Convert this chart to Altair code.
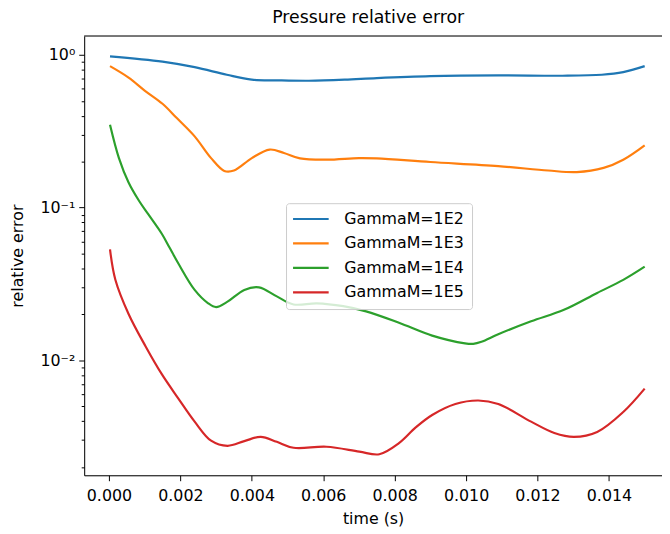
import altair as alt
import pandas as pd

# ---- data ----
series_names = ["GammaM=1E2", "GammaM=1E3", "GammaM=1E4", "GammaM=1E5"]
colors = ["#1f77b4", "#ff7f0e", "#2ca02c", "#d62728"]

t_1e2 = [0.00003, 0.0015, 0.0024, 0.0033, 0.0040, 0.0047, 0.0056, 0.0066, 0.0075,
         0.0090, 0.0109, 0.0127, 0.0138, 0.0144, 0.0150]
err_1e2 = [0.98, 0.905, 0.832, 0.742, 0.689, 0.682, 0.678, 0.689, 0.706,
           0.727, 0.735, 0.731, 0.742, 0.772, 0.845]

t_1e3 = [0.00003, 0.00055, 0.0010, 0.0015, 0.0019, 0.0024, 0.00286, 0.00323, 0.0035,
         0.0040, 0.0045, 0.0049, 0.00535, 0.0061, 0.0070, 0.0075, 0.0090, 0.0109,
         0.0123, 0.0131, 0.01385, 0.0144, 0.0150]
err_1e3 = [0.845, 0.711, 0.585, 0.479, 0.386, 0.293, 0.211, 0.174, 0.175,
           0.211, 0.240, 0.228, 0.210, 0.206, 0.211, 0.210, 0.199, 0.187,
           0.175, 0.171, 0.182, 0.206, 0.256]

t_1e4 = [0.00003, 0.00028, 0.00055, 0.00085, 0.0011, 0.00148, 0.0017, 0.00194, 0.0024,
         0.00277, 0.0030, 0.00332, 0.00379, 0.0042, 0.0047, 0.00517, 0.00582, 0.00656,
         0.0072, 0.00812, 0.00905, 0.00997, 0.0102, 0.01043, 0.0109, 0.01182, 0.01274,
         0.01367, 0.0144, 0.0150]
err_1e4 = [0.349, 0.211, 0.146, 0.110, 0.0906, 0.0674, 0.0545, 0.0432, 0.0289,
           0.0237, 0.0223, 0.0242, 0.0289, 0.0300, 0.0262, 0.0232, 0.0236, 0.0226,
           0.0209, 0.0176, 0.0145, 0.0129, 0.0128, 0.0132, 0.0148, 0.0180, 0.0214,
           0.0276, 0.0336, 0.0410]

t_1e5 = [0.00003, 0.00018, 0.00055, 0.00102, 0.00148, 0.00194, 0.0024, 0.00286, 0.00332,
         0.00379, 0.00425, 0.0047, 0.00517, 0.00609, 0.00701, 0.00757, 0.00812, 0.00859,
         0.00905, 0.0097, 0.01034, 0.0109, 0.01182, 0.01247, 0.01302, 0.01367, 0.0144, 0.0150]
err_1e5 = [0.0532, 0.0337, 0.0201, 0.0124, 0.0081, 0.00563, 0.00396, 0.00297, 0.00275,
           0.00295, 0.00315, 0.00292, 0.00267, 0.00271, 0.00252, 0.00242, 0.00286, 0.00363,
           0.00438, 0.00517, 0.00545, 0.00517, 0.00396, 0.00334, 0.00315, 0.00339, 0.00458, 0.00652]

x_ticks = [0.000, 0.002, 0.004, 0.006, 0.008, 0.010, 0.012, 0.014]
y_ticks = [0.002, 0.003, 0.004, 0.005, 0.006, 0.007, 0.008, 0.009,
           0.01, 0.02, 0.03, 0.04, 0.05, 0.06, 0.07, 0.08, 0.09,
           0.1, 0.2, 0.3, 0.4, 0.5, 0.6, 0.7, 0.8, 0.9, 1]

x_domain = [-0.000693, 0.015485]
y_domain = [0.001763, 1.332]

rows = []
for name, ts, es in zip(series_names, [t_1e2, t_1e3, t_1e4, t_1e5],
                        [err_1e2, err_1e3, err_1e4, err_1e5]):
    for i, (t, e) in enumerate(zip(ts, es)):
        rows.append({"series": name, "time": t, "err": e, "order": i})
df = pd.DataFrame(rows)

W, H = 584, 444
FONT = "DejaVu Sans"
FS = 16

lines = alt.Chart(df).mark_line(strokeWidth=2.2, interpolate="catmull-rom", clip=True).encode(
    x=alt.X("time:Q",
            scale=alt.Scale(domain=x_domain, nice=False, zero=False),
            axis=alt.Axis(values=x_ticks, format=".3f", title="time (s)", grid=False,
                          tickSize=5.5, labelPadding=7, labelFontSize=FS, titleFontSize=FS,
                          titleFontWeight="normal", labelColor="black", titleColor="black",
                          domainColor="black", tickColor="black", labelFont=FONT, titleFont=FONT,
                          titleBaseline="middle", titleY=44, labelFlush=False)),
    y=alt.Y("err:Q",
            scale=alt.Scale(type="log", domain=y_domain, nice=False),
            axis=alt.Axis(values=y_ticks,
                          labelExpr="datum.value == 1 ? '10⁰' : datum.value == 0.1 ? '10⁻¹' : datum.value == 0.01 ? '10⁻²' : ''",
                          tickSize={"condition": {"test": "datum.value == 1 || datum.value == 0.1 || datum.value == 0.01", "value": 5.5}, "value": 3},
                          title="relative error", grid=False, labelPadding=4,
                          labelFontSize=FS, titleFontSize=FS, titleFontWeight="normal",
                          labelColor="black", titleColor="black", domainColor="black",
                          tickColor="black", labelFont=FONT, titleFont=FONT,
                          titleAngle=270, titleX=-67, titleY=H / 2, titleBaseline="middle",
                          titleAlign="center", labelFlush=False)),
    color=alt.Color("series:N",
                    scale=alt.Scale(domain=series_names, range=colors),
                    legend=alt.Legend(title=None, orient="none", legendX=204, legendY=169,
                                      symbolType="M-3.6,0H3.6", symbolSize=100, symbolStrokeWidth=2.2,
                                      symbolOffset=9.1,
                                      labelFontSize=FS, labelFont=FONT, labelColor="black",
                                      labelOffset=25.7, padding=8, rowPadding=8.7,
                                      strokeColor="#cccccc", fillColor="rgba(255,255,255,0.8)",
                                      cornerRadius=3, labelLimit=300)),
    order="order:Q",
)

top_border = alt.Chart(pd.DataFrame({"a": [0]})).mark_rule(color="black", strokeWidth=1).encode(
    x=alt.value(0), x2=alt.value(W), y=alt.value(0)
)

chart = alt.layer(lines, top_border).properties(
    width=W, height=H,
    autosize=alt.AutoSizeParams(type="none"),
    padding={"left": 77, "top": 25.5, "right": 0, "bottom": 50},
    title=alt.Title("Pressure relative error", fontSize=17.5, fontWeight="normal", color="black",
                    font=FONT, anchor="middle", frame="group", offset=9, dx=-5),
).configure_view(strokeWidth=0).configure(font=FONT)

chart.save("out.html", embed_options={"renderer": "svg", "actions": False})
